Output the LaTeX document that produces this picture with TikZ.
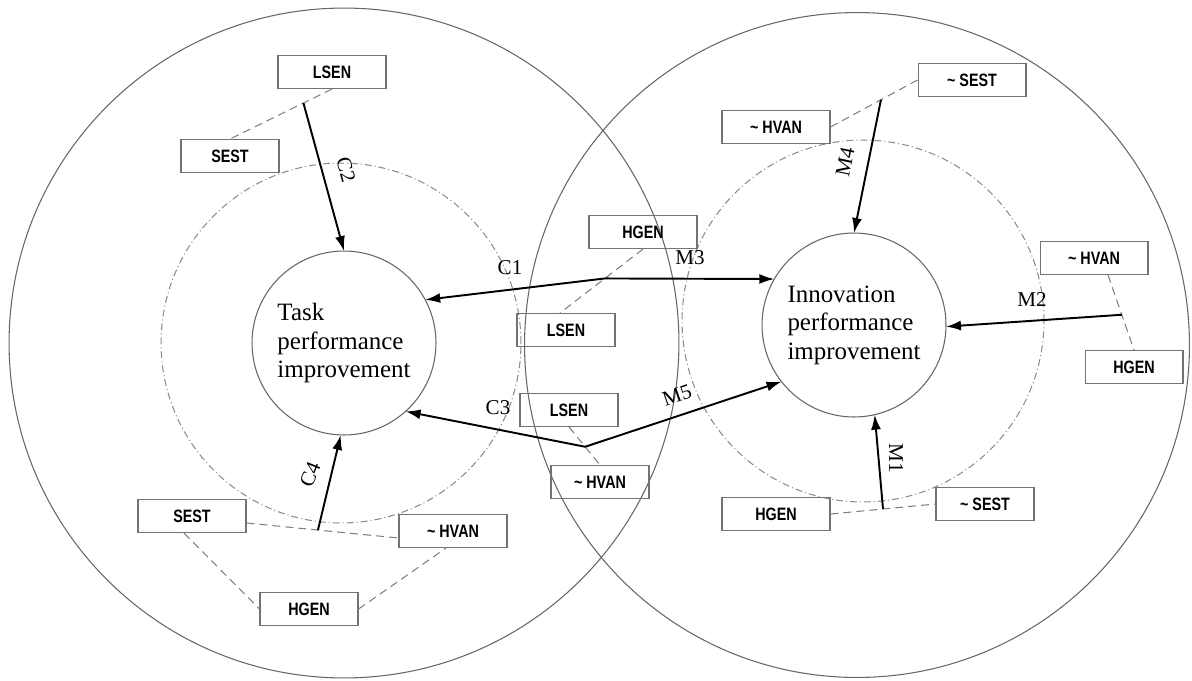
\documentclass[tikz,border=0pt]{standalone}
\usepackage{fontspec}
\setmainfont{Liberation Serif}
\newfontfamily\boxfont[FakeStretch=0.8]{Liberation Sans}
\usetikzlibrary{calc,arrows.meta}

\begin{document}
\begin{tikzpicture}[x=0.02cm,y=-0.02cm,
    var/.style={draw=black!55,line width=0.6pt,minimum width=1.96cm,minimum height=0.66cm,inner sep=0pt,font=\boxfont\bfseries\fontsize{10.2}{12}\selectfont},
    wide/.style={minimum width=2.16cm},
    perf/.style={draw=black!60,line width=0.6pt,circle,minimum size=3.68cm,inner sep=0pt,outer sep=0pt,align=left,font=\fontsize{14.2}{16.2}\selectfont},
    link/.style={draw=black!50,line width=0.6pt,dash pattern=on 0.16cm off 0.1cm},
    effect/.style={line width=1.1pt,-{Latex[length=0.3cm,width=0.2cm]}},
    lbl/.style={font=\fontsize{12}{14}\selectfont,inner sep=1pt},
    ring/.style={draw=black!60,line width=0.6pt},
    zone/.style={draw=black!45,line width=0.6pt,dash pattern=on 0.14cm off 0.06cm on 0.02cm off 0.06cm}]
    \useasboundingbox (0,0) rectangle (1192,680);

    % outer and middle rings
    \draw[ring] (344,343) circle [radius=6.7cm];
    \draw[ring] (857,345) circle [radius=6.65cm];
    \draw[zone] (341,343) circle [radius=3.6cm];
    \draw[zone] (863,321) circle [radius=3.62cm];

    % outcomes
    \node[perf] (task) at (344,343) {Task\\performance\\improvement};
    \node[perf] (inno) at (854,325) {Innovation\\performance\\improvement};

    % conditions, task side
    \node[var,wide] (lsenT) at (332,72) {LSEN};
    \node[var] (sestL) at (230,156) {SEST};
    \node[var,wide] (sestB) at (192,516) {SEST};
    \node[var,wide] (hvanB) at (453,531) {\textasciitilde\ HVAN};
    \node[var] (hgenB) at (309,609) {HGEN};
    % conditions, overlap
    \node[var,wide] (hgenC) at (643,232) {HGEN};
    \node[var] (lsenU) at (566,330) {LSEN};
    \node[var] (lsenD) at (569,410) {LSEN};
    \node[var] (hvanC) at (600,482) {\textasciitilde\ HVAN};
    % conditions, innovation side
    \node[var,wide] (sestT) at (972,80) {\textasciitilde\ SEST};
    \node[var,wide] (hvanT) at (776,127) {\textasciitilde\ HVAN};
    \node[var,wide] (hvanR) at (1094,258) {\textasciitilde\ HVAN};
    \node[var] (hgenR) at (1134,367) {HGEN};
    \node[var,wide] (hgenM) at (776,514) {HGEN};
    \node[var] (sestM) at (985,504) {\textasciitilde\ SEST};

    % foot points of the dashed links
    \coordinate (hvanRfoot) at ($(hvanR.south)+(14,0)$);
    \coordinate (sestBside) at ($(sestB.east)+(0,7)$);
    \coordinate (hvanBside) at ($(hvanB.west)+(0,7)$);
    \coordinate (sestBfoot) at ($(sestB.south)+(-8,0)$);
    \coordinate (hvanBfoot) at ($(hvanB.south)+(-7,0)$);
    \coordinate (lsenUtop) at ($(lsenU.north)+(-6,0)$);

    \draw[link] (lsenT.south) -- (sestL.north);
    \draw[link] (hvanT.east) -- (sestT.west);
    \draw[link] (hvanRfoot) -- (hgenR.north);
    \draw[link] (hgenM.east) -- (sestM.west);
    \draw[link] (sestBside) -- (hvanBside);
    \draw[link] (sestBfoot) -- (hgenB.west);
    \draw[link] (hgenB.east) -- (hvanBfoot);
    \draw[link] (hgenC.south) -- (lsenUtop);
    \draw[link] (lsenD.south) -- (hvanC.north);

    % configurations
    \coordinate (jC2) at ($(lsenT.south)!0.28!(sestL.north)$);
    \coordinate (jM4) at ($(hvanT.east)!0.58!(sestT.west)$);
    \coordinate (jM2) at ($(hvanRfoot)!0.53!(hgenR.north)$);
    \coordinate (jM1) at ($(hgenM.east)!0.5!(sestM.west)$);
    \coordinate (jC4) at ($(sestBside)!0.47!(hvanBside)$);
    \coordinate (jC1) at ($(hgenC.south)!0.46!(lsenUtop)$);
    \coordinate (jC3) at ($(lsenD.south)!0.52!(hvanC.north)$);

    \draw[effect] (jC2) -- (task.north);
    \draw[effect] (jC4) -- (task.-92);
    \draw[effect] (jC1) -- (task.28);
    \draw[effect] (jC1) -- (inno.150);
    \draw[effect] (jC3) -- (task.-48);
    \draw[effect] (jC3) -- (inno.-142);
    \draw[effect] (jM4) -- (inno.north);
    \draw[effect] (jM2) -- (inno.-1);
    \draw[effect] (jM1) -- (inno.-77);

    \node[lbl] (lC1) at (510,268) {C1};
    \node[lbl] (lM3) at (690,258) {M3};
    \node[lbl] (lC3) at (498,408) {C3};
    \node[lbl,rotate=19] (lM5) at (677,395) {M5};
    \node[lbl] (lM2) at (1032,300) {M2};
    \node[lbl,rotate=-75] (lC2) at (346,170) {C2};
    \node[lbl,rotate=78] (lM4) at (845,162) {M4};
    \node[lbl,rotate=-90] (lM1) at (896,458) {M1};
    \node[lbl,rotate=68] (lC4) at (310,475) {C4};
\end{tikzpicture}
\end{document}
